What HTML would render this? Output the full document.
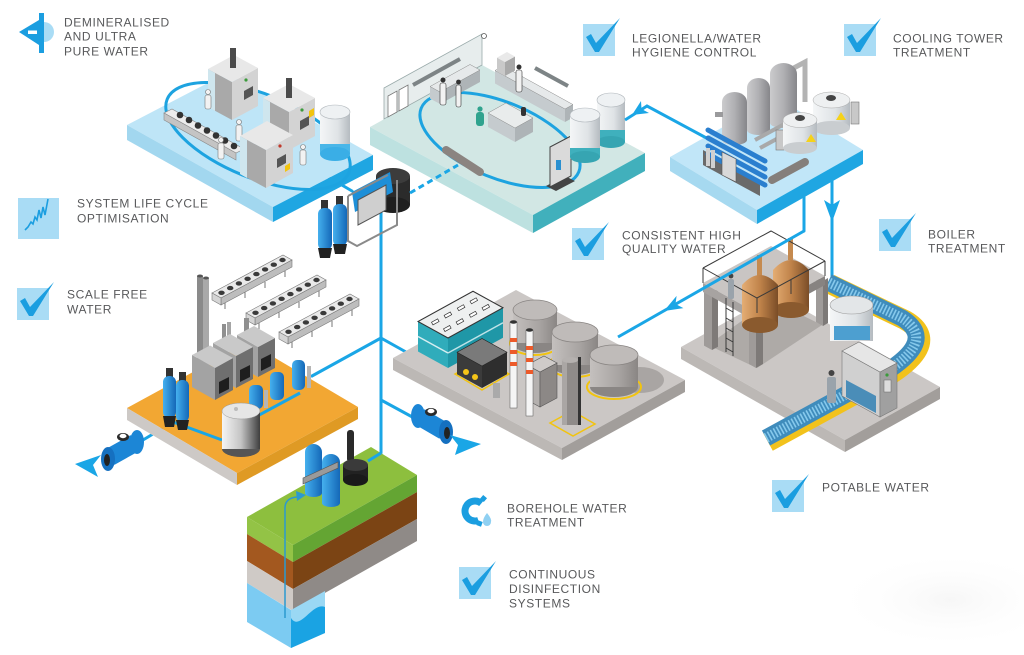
<!DOCTYPE html>
<html><head><meta charset="utf-8"><style>
html,body{margin:0;padding:0;background:#fff;width:1024px;height:655px;overflow:hidden}
svg{display:block}
</style></head><body>
<svg width="1024" height="655" viewBox="0 0 1024 655" xmlns="http://www.w3.org/2000/svg">
<defs>
<linearGradient id="gTank" x1="0" x2="1"><stop offset="0" stop-color="#cbcbcd"/><stop offset="0.5" stop-color="#b0b0b3"/><stop offset="1" stop-color="#86868a"/></linearGradient>
<linearGradient id="gWhite" x1="0" x2="1"><stop offset="0" stop-color="#f4f6f7"/><stop offset="0.6" stop-color="#dfe3e6"/><stop offset="1" stop-color="#b5bbc0"/></linearGradient>
<linearGradient id="gCopper" x1="0" x2="1"><stop offset="0" stop-color="#e4ad74"/><stop offset="0.5" stop-color="#c0834a"/><stop offset="1" stop-color="#7a4d27"/></linearGradient>
<linearGradient id="gSilo" x1="0" x2="1"><stop offset="0" stop-color="#c4c0be"/><stop offset="0.6" stop-color="#a8a4a2"/><stop offset="1" stop-color="#8a8684"/></linearGradient>
<linearGradient id="gWT" x1="0" x2="1"><stop offset="0" stop-color="#f5f5f5"/><stop offset="0.5" stop-color="#c4c4c4"/><stop offset="1" stop-color="#3e3e3e"/></linearGradient>
<linearGradient id="gBlue" x1="0" x2="1"><stop offset="0" stop-color="#45b0ee"/><stop offset="1" stop-color="#1468b8"/></linearGradient>
<radialGradient id="gSh" cx="0.5" cy="0.5" r="0.5"><stop offset="0" stop-color="#ececec" stop-opacity="0.45"/><stop offset="1" stop-color="#ffffff" stop-opacity="0"/></radialGradient>
<g id="ck"><rect x="0" y="0" width="32" height="32" fill="#a9dcf5"/><polygon points="3,13 8,10 13,19 37,-6 16,28 12,28" fill="#1b9ee0"/></g>
<g id="bar">
 <polygon points="212,293 283,255 292,260 221,298" fill="#e9e9e9" stroke="#777" stroke-width="0.6"/>
 <polygon points="221,298 292,260 292,267 221,305" fill="#bdbdbd" stroke="#777" stroke-width="0.6"/>
 <polygon points="212,293 221,298 221,305 212,300" fill="#d5d5d5" stroke="#777" stroke-width="0.6"/>
 <g fill="#3a3a3a"><ellipse cx="221.5" cy="292.8" rx="3.2" ry="2.2"/><ellipse cx="230.2" cy="288.1" rx="3.2" ry="2.2"/><ellipse cx="238.9" cy="283.4" rx="3.2" ry="2.2"/><ellipse cx="247.6" cy="278.8" rx="3.2" ry="2.2"/><ellipse cx="256.4" cy="274.1" rx="3.2" ry="2.2"/><ellipse cx="265.1" cy="269.4" rx="3.2" ry="2.2"/><ellipse cx="273.8" cy="264.7" rx="3.2" ry="2.2"/><ellipse cx="282.5" cy="260" rx="3.2" ry="2.2"/></g>
 <g stroke="#777" stroke-width="1"><line x1="225" y1="303" x2="225" y2="309"/><line x1="245" y1="292" x2="245" y2="298"/><line x1="265" y1="282" x2="265" y2="288"/><line x1="285" y1="271" x2="285" y2="277"/></g>
</g>
</defs>

<!-- faint shade bottom right -->
<ellipse cx="950" cy="600" rx="120" ry="50" fill="url(#gSh)"/>

<!-- back pipes -->
<g stroke="#1aa6e6" stroke-width="3" fill="none" stroke-linecap="round">
 <line x1="381" y1="200" x2="381" y2="453"/>
 <line x1="381" y1="338" x2="312" y2="376"/>
 <line x1="381" y1="338" x2="406" y2="352"/>
 <line x1="381" y1="400" x2="416" y2="419"/>
 <line x1="318" y1="171" x2="352" y2="191"/>
 <line x1="143" y1="440" x2="173" y2="422"/>
 <line x1="832" y1="180" x2="832" y2="284"/>
 <polyline points="804,196 804,231"/>
</g>

<!-- PLATFORM 1 -->
<polygon points="127,125 227,73 373,155 273,207" fill="#bee5f7"/>
<polygon points="127,125 273,207 273,222 127,140" fill="#a2d7ef"/>
<polygon points="273,207 373,155 373,170 273,222" fill="#1fa6e2"/>
<ellipse cx="258" cy="136" rx="98" ry="42" transform="rotate(22 258 136)" fill="none" stroke="#1da3e0" stroke-width="3"/>
<!-- box1 -->
<polygon points="208,107 232,120 232,82 208,69" fill="#a9a9a9"/>
<polygon points="208,107 215,111 215,73 208,69" fill="#cfe6ee"/>
<polygon points="232,120 258,106 258,68 232,82" fill="#d3d3d3"/>
<polygon points="232,82 258,68 234,55 208,69" fill="#e8e8e8"/>
<polygon points="244,100 253,95 253,86 244,91" fill="#555"/>
<rect x="230" y="48" width="6" height="20" fill="#4b4b4b"/>
<circle cx="246" cy="80" r="1.6" fill="#3b9b3b"/>
<!-- box2 -->
<polygon points="263,136 289,150 289,112 263,98" fill="#a9a9a9"/>
<polygon points="263,136 270,140 270,102 263,98" fill="#cfe6ee"/>
<polygon points="289,150 315,136 315,98 289,112" fill="#d3d3d3"/>
<polygon points="289,112 315,98 289,84 263,98" fill="#e8e8e8"/>
<polygon points="300,130 309,125 309,116 300,121" fill="#555"/>
<polygon points="309,118 314,115 314,108 309,111" fill="#f2c40f"/>
<rect x="286" y="78" width="6" height="20" fill="#4b4b4b"/>
<circle cx="302" cy="110" r="1.6" fill="#3b9b3b"/>
<!-- conveyor with fans -->
<polygon points="164,113 172,109 244,149 236,153" fill="#ececec" stroke="#888" stroke-width="0.6"/>
<polygon points="164,113 236,153 236,160 164,120" fill="#c4c4c4" stroke="#888" stroke-width="0.6"/>
<g fill="#333"><circle cx="180" cy="115" r="3.3"/><circle cx="189" cy="120" r="3.3"/><circle cx="198" cy="125.5" r="3.3"/><circle cx="207" cy="130.5" r="3.3"/><circle cx="216" cy="135.5" r="3.3"/><circle cx="225" cy="140.5" r="3.3"/><circle cx="234" cy="146" r="3.3"/></g>
<!-- figures P1 -->
<g fill="#f2f2f2" stroke="#777" stroke-width="0.6">
 <rect x="205" y="95" width="6" height="14" rx="2"/><circle cx="208" cy="92" r="2.5"/>
 <rect x="236" y="125" width="6" height="16" rx="2"/><circle cx="239" cy="122" r="2.5"/>
 <rect x="218" y="143" width="6" height="16" rx="2"/><circle cx="221" cy="140" r="2.5"/>
 <rect x="300" y="150" width="6" height="15" rx="2"/><circle cx="303" cy="147" r="2.5"/>
</g>
<!-- box3 -->
<polygon points="240,174 266,188 266,150 240,136" fill="#a9a9a9"/>
<polygon points="240,174 247,178 247,140 240,136" fill="#cfe6ee"/>
<polygon points="266,188 293,173 293,135 266,150" fill="#d3d3d3"/>
<polygon points="266,150 293,135 267,121 240,136" fill="#e8e8e8"/>
<polygon points="277,168 286,163 286,154 277,159" fill="#555"/>
<polygon points="285,172 290,169 290,163 285,166" fill="#f2c40f"/>
<circle cx="280" cy="146" r="1.6" fill="#c0392b"/>
<!-- P1 tank -->
<rect x="320" y="112" width="30" height="42" fill="url(#gWhite)"/>
<rect x="320" y="144" width="30" height="10" fill="#4ab6e8"/>
<ellipse cx="335" cy="154" rx="15" ry="7" fill="#3aaee6"/>
<ellipse cx="335" cy="112" rx="15" ry="7" fill="#eef1f3" stroke="#b0b6bb" stroke-width="0.6"/>

<!-- PLATFORM 2 -->
<polygon points="370,127 482,65 645,153 533,215" fill="#d2e7e4"/>
<polygon points="370,127 533,215 533,233 370,145" fill="#bde1e0"/>
<polygon points="533,215 645,153 645,171 533,233" fill="#41b0bc"/>
<!-- wall -->
<polygon points="384,88 482,34 482,65 384,119" fill="#e7eded" stroke="#9aa" stroke-width="0.8"/>
<polygon points="388,96 397,91 397,112 388,117" fill="#fff" stroke="#777" stroke-width="0.8"/>
<polygon points="399,90 408,85 408,106 399,111" fill="#fff" stroke="#777" stroke-width="0.8"/>
<line x1="413" y1="85" x2="460" y2="59" stroke="#7d8486" stroke-width="4"/>
<circle cx="484" cy="36" r="2.5" fill="#fff" stroke="#555" stroke-width="0.8"/>
<ellipse cx="500" cy="140" rx="85" ry="38" transform="rotate(22 500 140)" fill="none" stroke="#1da3e0" stroke-width="3"/>
<!-- benches -->
<polygon points="430,98.5 440,104 440,92 430,86.5" fill="#c5cbce"/>
<polygon points="440,104 480,82 480,70 440,92" fill="#aeb4b7"/>
<polygon points="440,92 480,70 470,64.5 430,86.5" fill="#e6e9ea" stroke="#888" stroke-width="0.5"/>
<polygon points="495,83.5 565,122 565,109 495,70.5" fill="#c5cbce"/>
<polygon points="565,122 573,117.6 573,104.6 565,109" fill="#aeb4b7"/>
<polygon points="565,109 573,104.6 503,66 495,70.5" fill="#e6e9ea" stroke="#888" stroke-width="0.5"/>
<polygon points="497,71.6 505,76 505,62 497,57.6" fill="#c9c9c9"/>
<polygon points="505,76 515,70.5 515,56.5 505,62" fill="#a9a9a9"/>
<polygon points="505,62 515,56.5 507,52 497,57.6" fill="#e9e9e9"/>
<line x1="535" y1="68" x2="568" y2="86" stroke="#7d8486" stroke-width="4"/>
<polygon points="488,127 515,142 515,128 488,113" fill="#c5cbce"/>
<polygon points="515,142 533,132 533,118 515,128" fill="#aeb4b7"/>
<polygon points="515,128 533,118 506,103 488,113" fill="#e9ecec" stroke="#888" stroke-width="0.5"/>
<!-- figures P2 -->
<g>
 <rect x="440" y="83" width="6" height="22" rx="2" fill="#f2f2f2" stroke="#333" stroke-width="0.6"/><circle cx="443" cy="80" r="2.5" fill="#333"/>
 <rect x="456" y="85" width="5" height="22" rx="2" fill="#f2f2f2" stroke="#333" stroke-width="0.6"/><circle cx="458.5" cy="82" r="2.4" fill="#333"/>
 <rect x="516" y="70" width="6" height="22" rx="2" fill="#f2f2f2" stroke="#333" stroke-width="0.6"/><circle cx="519" cy="67" r="2.5" fill="#333"/>
 <rect x="476" y="112" width="8" height="14" rx="3" fill="#2fa38e"/><circle cx="480" cy="109" r="2.6" fill="#2fa38e"/>
 <rect x="521" y="107" width="5" height="9" rx="2" fill="#333"/>
</g>
<!-- station -->
<polygon points="546,186 556,191 575,181 565,176" fill="#444"/>
<polygon points="550,147 571,136 571,176 550,187" fill="#dadada" stroke="#444" stroke-width="1"/>
<rect x="556" y="160" width="5" height="10" fill="#2a8fd0"/>
<!-- cartridge -->
<line x1="446" y1="150" x2="480" y2="172" stroke="#8b8480" stroke-width="8" stroke-linecap="round"/>
<!-- tanks P2 -->
<rect x="597" y="100" width="28" height="42" fill="url(#gWhite)"/>
<rect x="597" y="130" width="28" height="12" fill="#3fb0bd"/>
<ellipse cx="611" cy="142" rx="14" ry="6" fill="#36a5b2"/>
<ellipse cx="611" cy="100" rx="14" ry="7" fill="#eef1f3" stroke="#b0b6bb" stroke-width="0.6"/>
<rect x="570" y="115" width="30" height="42" fill="url(#gWhite)"/>
<rect x="570" y="148" width="30" height="9" fill="#3fb0bd"/>
<ellipse cx="585" cy="157" rx="15" ry="6" fill="#36a5b2"/>
<ellipse cx="585" cy="115" rx="15" ry="7" fill="#eef1f3" stroke="#b0b6bb" stroke-width="0.6"/>

<!-- PLATFORM 3 -->
<polygon points="670,157 776,97 863,150 757,210" fill="#c1e6f8"/>
<polygon points="670,157 757,210 757,224 670,171" fill="#a6d9f0"/>
<polygon points="757,210 863,150 863,164 757,224" fill="#1fa6e2"/>
<!-- P3 -> P2 line -->
<polyline points="625,120 647,106 712,141" fill="none" stroke="#1aa6e6" stroke-width="3"/>
<polygon points="632,115 641,101 641.5,109 649,113" fill="#1aa6e6"/>
<!-- P3 tanks -->
<path d="M790,70 L805,62 L805,102" fill="none" stroke="#b3b3b3" stroke-width="5"/>
<path d="M770,123 L770,74 A13.5,11 0 0 1 797,74 L797,123 A13.5,5 0 0 1 770,123 Z" fill="url(#gTank)"/>
<path d="M747,130 L747,88 A11.5,10 0 0 1 770,88 L770,130 A11.5,5 0 0 1 747,130 Z" fill="url(#gTank)"/>
<path d="M722,140 L722,102 A12.5,10 0 0 1 747,102 L747,140 A12.5,5 0 0 1 722,140 Z" fill="url(#gTank)"/>
<rect x="715" y="112" width="8" height="5" fill="#9a9a9c"/>
<rect x="851" y="102" width="8" height="22" fill="#c8c8c8" stroke="#777" stroke-width="0.6"/>
<rect x="813" y="100" width="37" height="28" fill="url(#gWhite)"/>
<ellipse cx="831.5" cy="128" rx="18.5" ry="7" fill="#c9cdd0"/>
<ellipse cx="831.5" cy="100" rx="18.5" ry="8" fill="#eef0f1" stroke="#aaa" stroke-width="0.5"/>
<ellipse cx="831" cy="98" rx="5" ry="3" fill="#444"/>
<polygon points="836,120 841,112 846,120" fill="#f5d21a"/>
<line x1="755" y1="140" x2="790" y2="121" stroke="#a9a9a9" stroke-width="4"/>
<line x1="760" y1="148" x2="795" y2="129" stroke="#a9a9a9" stroke-width="4"/>
<rect x="776" y="130" width="8" height="20" fill="#c8c8c8" stroke="#777" stroke-width="0.6"/>
<rect x="783" y="120" width="34" height="28" fill="url(#gWhite)"/>
<ellipse cx="800" cy="148" rx="17" ry="6" fill="#c9cdd0"/>
<ellipse cx="800" cy="120" rx="17" ry="7.5" fill="#eef0f1" stroke="#aaa" stroke-width="0.5"/>
<ellipse cx="800" cy="118" rx="5" ry="3" fill="#444"/>
<polygon points="806,142 811,134 816,142" fill="#f5d21a"/>
<!-- RO rack -->
<polygon points="703,150 760,181 760,196 703,165" fill="#6a6a6a"/>
<g stroke="#2a7fcf" stroke-width="5" stroke-linecap="round"><line x1="708" y1="130" x2="765" y2="161"/><line x1="708" y1="138" x2="765" y2="169"/><line x1="708" y1="146" x2="765" y2="177"/><line x1="708" y1="154" x2="765" y2="185"/></g>
<polygon points="722,152 736,159 736,182 722,175" fill="#d8d8d8" stroke="#555" stroke-width="0.6"/>
<rect x="706" y="148" width="4" height="18" fill="#d0d0d0"/><rect x="711" y="150" width="4" height="18" fill="#d0d0d0"/>
<line x1="772" y1="180" x2="805" y2="162" stroke="#857f7b" stroke-width="8" stroke-linecap="round"/>

<!-- PLATFORM 4 (orange) -->
<polygon points="127,408 248,342 358,407 237,473" fill="#f2a733"/>
<polygon points="127,408 237,473 237,485 127,420" fill="#cdc9c6"/>
<polygon points="237,473 358,407 358,419 237,485" fill="#df9a24"/>
<line x1="173" y1="422" x2="222" y2="440" stroke="#1aa6e6" stroke-width="3"/>
<line x1="250" y1="420" x2="300" y2="393" stroke="#1aa6e6" stroke-width="3"/>
<use href="#bar"/>
<use href="#bar" transform="translate(34,20)"/>
<use href="#bar" transform="translate(67,39)"/>
<rect x="197" y="276" width="6" height="90" fill="#8a8a8a"/>
<rect x="203" y="278" width="6" height="88" fill="#a9a9a9"/>
<ellipse cx="200" cy="276" rx="3" ry="1.5" fill="#555"/><ellipse cx="206" cy="278" rx="3" ry="1.5" fill="#555"/>
<rect x="244" y="318" width="5" height="16" fill="#8f8f8f"/>
<polygon points="237,365 258,377 258,347 237,335" fill="#a3a3a3"/>
<polygon points="258,377 275,368 275,338 258,347" fill="#6f6f6f"/>
<polygon points="258,347 275,338 254,326 237,335" fill="#c9c9c9"/>
<rect x="222" y="324" width="4" height="22" fill="#8f8f8f"/><rect x="227" y="322" width="4" height="22" fill="#a5a5a5"/>
<polygon points="213,375 236,388 236,356 213,343" fill="#a3a3a3"/>
<polygon points="236,388 253,379 253,347 236,356" fill="#6f6f6f"/>
<polygon points="236,356 253,347 230,334 213,343" fill="#c9c9c9"/>
<polygon points="192,387 215,400 215,368 192,355" fill="#a3a3a3"/>
<polygon points="215,400 233,390 233,358 215,368" fill="#6f6f6f"/>
<polygon points="215,368 233,358 210,345.5 192,355" fill="#c9c9c9"/>
<polygon points="219,394 229,389 229,377 219,382" fill="#1e1e1e"/>
<polygon points="240,382 250,377 250,365 240,370" fill="#1e1e1e"/>
<polygon points="261,371 271,366 271,354 261,359" fill="#1e1e1e"/>
<!-- softeners -->
<rect x="292" y="360" width="13" height="30" rx="5" fill="url(#gBlue)"/>
<rect x="270" y="372" width="14" height="28" rx="5" fill="url(#gBlue)"/>
<rect x="249" y="385" width="14" height="24" rx="5" fill="url(#gBlue)"/>
<rect x="307" y="366" width="4" height="22" fill="#b5b5b5"/>
<rect x="264" y="390" width="4" height="18" fill="#b5b5b5"/>
<!-- filter pair -->
<rect x="166" y="368" width="7" height="10" fill="#333"/>
<rect x="163" y="376" width="13" height="42" rx="6" fill="url(#gBlue)"/>
<polygon points="163,416 176,416 174,427 165,427" fill="#222"/>
<rect x="179" y="372" width="7" height="10" fill="#333"/>
<rect x="176" y="380" width="13" height="42" rx="6" fill="url(#gBlue)"/>
<polygon points="176,420 189,420 187,430 178,430" fill="#222"/>
<!-- white tank -->
<rect x="222" y="411" width="38" height="38" fill="url(#gWT)"/>
<ellipse cx="241" cy="449" rx="19" ry="8" fill="#555"/>
<rect x="222" y="430" width="38" height="19" fill="url(#gWT)"/>
<ellipse cx="241" cy="411" rx="19" ry="8" fill="#e6e6e6" stroke="#999" stroke-width="0.5"/>
<circle cx="236" cy="409" r="2" fill="#bbb"/>

<!-- PLATFORM 5 -->
<polygon points="393,358 516,290 685,380 562,448" fill="#cbc7c5"/>
<polygon points="393,358 562,448 562,460 393,370" fill="#bcb8b5"/>
<polygon points="562,448 685,380 685,392 562,460" fill="#a29e9b"/>
<!-- building -->
<polygon points="418,351.5 448,368 448,338 418,321.5" fill="#30acbb"/>
<polygon points="448,368 503,337.75 503,307.75 448,338" fill="#1f97a7"/>
<polygon points="448,338 503,307.75 473,291.25 418,321.5" fill="#eef0f0" stroke="#333" stroke-width="1"/>
<line x1="418" y1="336.5" x2="448" y2="353" stroke="#d6eef1" stroke-width="1.5"/>
<line x1="448" y1="353" x2="503" y2="322.75" stroke="#bfe3e8" stroke-width="1.5"/>
<g fill="#fff" stroke="#333" stroke-width="0.7">
<rect x="-3.5" y="-1.5" width="7" height="3" transform="translate(435.3,321.9) rotate(-29)"/>
<rect x="-3.5" y="-1.5" width="7" height="3" transform="translate(447.9,315) rotate(-29)"/>
<rect x="-3.5" y="-1.5" width="7" height="3" transform="translate(461.1,307.7) rotate(-29)"/>
<rect x="-3.5" y="-1.5" width="7" height="3" transform="translate(473.8,300.8) rotate(-29)"/>
<rect x="-3.5" y="-1.5" width="7" height="3" transform="translate(447.3,328.5) rotate(-29)"/>
<rect x="-3.5" y="-1.5" width="7" height="3" transform="translate(459.9,321.6) rotate(-29)"/>
<rect x="-3.5" y="-1.5" width="7" height="3" transform="translate(473.1,314.3) rotate(-29)"/>
<rect x="-3.5" y="-1.5" width="7" height="3" transform="translate(485.8,307.4) rotate(-29)"/>
</g>
<!-- silos -->
<ellipse cx="640" cy="380" rx="24" ry="13" fill="#a9a5a3"/>
<ellipse cx="535" cy="343" rx="25" ry="12" fill="none" stroke="#f2c40f" stroke-width="2"/>
<rect x="513" y="310" width="44" height="33" fill="url(#gSilo)"/>
<ellipse cx="535" cy="343" rx="22" ry="10" fill="#8a8684"/>
<rect x="513" y="330" width="44" height="13" fill="url(#gSilo)"/>
<ellipse cx="535" cy="310" rx="22" ry="10" fill="#bfbbb9" stroke="#8a8684" stroke-width="0.8"/>
<ellipse cx="575" cy="365" rx="26" ry="12" fill="none" stroke="#f2c40f" stroke-width="2"/>
<rect x="552" y="332" width="46" height="33" fill="url(#gSilo)"/>
<ellipse cx="575" cy="365" rx="23" ry="10" fill="#8a8684"/>
<rect x="552" y="350" width="46" height="15" fill="url(#gSilo)"/>
<ellipse cx="575" cy="332" rx="23" ry="10" fill="#bfbbb9" stroke="#8a8684" stroke-width="0.8"/>
<ellipse cx="614" cy="387" rx="27" ry="12" fill="none" stroke="#f2c40f" stroke-width="2"/>
<rect x="590" y="355" width="48" height="32" fill="url(#gSilo)"/>
<ellipse cx="614" cy="387" rx="24" ry="10" fill="#8a8684"/>
<rect x="590" y="372" width="48" height="15" fill="url(#gSilo)"/>
<ellipse cx="614" cy="355" rx="24" ry="10" fill="#bfbbb9" stroke="#8a8684" stroke-width="0.8"/>
<!-- generator -->
<polygon points="455,374 482,390 509,374 482,359" fill="none" stroke="#f2c40f" stroke-width="1.5"/>
<polygon points="457,374.25 482,388 482,366 457,352.25" fill="#3b3b3b"/>
<polygon points="482,388 507,374.25 507,352.25 482,366" fill="#2e2e2e"/>
<polygon points="482,366 507,352.25 482,338.5 457,352.25" fill="#7a7a7a" stroke="#222" stroke-width="0.6"/>
<circle cx="466" cy="372" r="3" fill="#f5c518"/><circle cx="475" cy="377" r="3" fill="#f5c518"/>
<rect x="493" y="383" width="7" height="15" fill="#aaa"/>
<!-- reactor box -->
<polygon points="527,400 540,407 540,372 527,365" fill="#b4b0ae" stroke="#555" stroke-width="0.6"/>
<polygon points="540,407 557,398 557,363 540,372" fill="#8c8886" stroke="#555" stroke-width="0.6"/>
<polygon points="540,372 557,363 544,356 527,365" fill="#cfcbc9" stroke="#555" stroke-width="0.6"/>
<!-- chimneys -->
<rect x="510" y="322" width="7" height="86" fill="#f5f5f5" stroke="#555" stroke-width="0.5"/>
<rect x="510" y="338" width="7" height="4" fill="#ec5a2a"/><rect x="510" y="350" width="7" height="4" fill="#ec5a2a"/><rect x="510" y="362" width="7" height="4" fill="#ec5a2a"/>
<ellipse cx="513.5" cy="322" rx="3.5" ry="1.8" fill="#333"/>
<rect x="526" y="330" width="7" height="86" fill="#f5f5f5" stroke="#555" stroke-width="0.5"/>
<rect x="526" y="346" width="7" height="4" fill="#ec5a2a"/><rect x="526" y="358" width="7" height="4" fill="#ec5a2a"/><rect x="526" y="370" width="7" height="4" fill="#ec5a2a"/>
<ellipse cx="529.5" cy="330" rx="3.5" ry="1.8" fill="#333"/>
<!-- tower -->
<polygon points="550,423 572,411 595,424 573,436" fill="none" stroke="#f2c40f" stroke-width="1.5"/>
<rect x="562" y="360" width="16" height="65" fill="#8f8b89"/>
<rect x="562" y="360" width="5" height="65" fill="#aaa6a4"/>
<rect x="578" y="357" width="3" height="68" fill="#333"/>
<ellipse cx="570" cy="360" rx="8" ry="3" fill="#b5b1af"/>

<!-- PLATFORM 6 -->
<polygon points="681,347 776,294 940,387 845,440" fill="#cbc7c5"/>
<polygon points="681,347 845,440 845,452 681,359" fill="#bcb8b5"/>
<polygon points="845,440 940,387 940,399 845,452" fill="#a29e9b"/>
<polygon points="708,345 757,368 822,325 771,300" fill="#aeaaa7"/>
<!-- conveyor -->
<path d="M768,442 L878,382 C918,360 935,337 905,320 L830,284" fill="none" stroke="#f2c21c" stroke-width="20"/>
<path d="M766,438 L876,378 C914,356 930,336 902,318 L828,282" fill="none" stroke="#3f8cbc" stroke-width="17"/>
<path d="M766,438 L876,378 C914,356 930,336 902,318 L828,282" fill="none" stroke="#86c9ec" stroke-width="10" stroke-dasharray="1.6 1.8"/>
<!-- structure -->
<polygon points="704,345.6 712,350 712,292 704,287.6" fill="#9f9b99"/>
<polygon points="712,350 718,346.7 718,288.7 712,292" fill="#7e7a78"/>
<polygon points="749,364 756,368 756,318 749,314" fill="#9f9b99"/>
<polygon points="756,368 763,364 763,314 756,318" fill="#7e7a78"/>
<polygon points="816,322 823,326 823,281 816,277" fill="#9f9b99"/>
<polygon points="823,326 828,323 828,278 823,281" fill="#7e7a78"/>
<polygon points="703,283 757,313 825,276 771,246" fill="#c9c5c3"/>
<polygon points="703,283 757,313 757,322 703,292" fill="#a7a3a1"/>
<polygon points="757,313 825,276 825,285 757,322" fill="#878381"/>
<!-- copper tanks -->
<rect x="788" y="238" width="5" height="22" fill="#c58a4f"/>
<rect x="773" y="270" width="36" height="40" fill="url(#gCopper)"/>
<ellipse cx="791" cy="310" rx="18" ry="8" fill="#8a5a2e"/>
<path d="M773,270 Q791,250 809,270 Z" fill="url(#gCopper)"/>
<rect x="757" y="255" width="5" height="22" fill="#c58a4f"/>
<rect x="742" y="285" width="36" height="40" fill="url(#gCopper)"/>
<ellipse cx="760" cy="325" rx="18" ry="8" fill="#8a5a2e"/>
<path d="M742,285 Q760,265 778,285 Z" fill="url(#gCopper)"/>
<!-- railings -->
<g stroke="#3a3a3a" stroke-width="1" fill="none">
<polyline points="703,268 757,298 825,261"/>
<polyline points="703,268 771,231 825,261"/>
<line x1="703" y1="268" x2="703" y2="283"/><line x1="757" y1="298" x2="757" y2="313"/><line x1="825" y1="261" x2="825" y2="276"/>
<line x1="730" y1="283" x2="730" y2="298"/><line x1="791" y1="280" x2="791" y2="294"/>
<line x1="726" y1="298" x2="726" y2="352"/><line x1="733" y1="302" x2="733" y2="356"/>
<line x1="726" y1="308" x2="733" y2="312"/><line x1="726" y1="318" x2="733" y2="322"/><line x1="726" y1="328" x2="733" y2="332"/><line x1="726" y1="338" x2="733" y2="342"/><line x1="726" y1="348" x2="733" y2="352"/>
</g>
<rect x="728" y="279" width="6" height="20" rx="2" fill="#9aa3ab"/><circle cx="731" cy="276" r="2.4" fill="#444"/>
<!-- cap tank -->
<rect x="830" y="305" width="43" height="36" fill="url(#gWhite)"/>
<rect x="834" y="326" width="36" height="14" fill="#4d9fd0"/>
<ellipse cx="851.5" cy="305" rx="21.5" ry="9" fill="#e3e6e8" stroke="#999" stroke-width="0.6"/>
<!-- gate -->
<polygon points="842,396 880,417 880,372 842,351" fill="#d0d0d0" stroke="#777" stroke-width="0.6"/>
<polygon points="846,380 876,396 876,413 846,397" fill="#4a8db8"/>
<polygon points="880,417 897,408 897,363 880,372" fill="#a0a0a0" stroke="#777" stroke-width="0.6"/>
<polygon points="880,372 897,363 859,342 842,351" fill="#e6e6e6" stroke="#777" stroke-width="0.6"/>
<rect x="884" y="380" width="7" height="12" fill="#ddd" stroke="#666" stroke-width="0.5"/>
<circle cx="887" cy="375" r="1.6" fill="#3b9b3b"/>
<rect x="827" y="377" width="9" height="26" rx="2" fill="#9aa3ab"/><circle cx="831.5" cy="373" r="3" fill="#444"/>

<!-- diagonal line from P3 -->
<polyline points="804,231 618,337" fill="none" stroke="#1aa6e6" stroke-width="3"/>
<polygon points="664,311 676.6,295.9 675.5,304 683.4,308.1" fill="#1aa6e6"/>
<polygon points="824,200 832,205 840,200 832,222" fill="#1aa6e6"/>

<!-- GROUND BLOCK -->
<polygon points="247,517 371,447 417,475 293,545" fill="#8dbf3e"/>
<polygon points="247,517 293,545 293,562 247,534" fill="#93c346"/>
<polygon points="247,534 293,562 293,589 247,561" fill="#a3581f"/>
<polygon points="247,561 293,589 293,611 247,583" fill="#cfcac6"/>
<polygon points="293,545 417,475 417,492 293,562" fill="#64a533"/>
<polygon points="293,562 417,492 417,519 293,589" fill="#7b4414"/>
<polygon points="293,589 417,519 417,541 293,611" fill="#8f8a87"/>
<polygon points="247,583 291,610 291,648 247,622" fill="#7ccbf2"/>
<polygon points="291,610 325,591 325,633 291,648" fill="#9ad8f4"/>
<path d="M291,618 C300,632 312,602 325,607 L325,633 L291,648 Z" fill="#1aa3e3"/>
<path d="M285,618 L285,508 Q285,498 297,497" fill="none" stroke="#2b9ad0" stroke-width="1.5"/>
<polygon points="306,495 296,491 297,501" fill="#2b9ad0"/>
<!-- pumps -->
<path d="M305,493 L305,452 A8.5,8 0 0 1 322,452 L322,493 A8.5,4 0 0 1 305,493 Z" fill="url(#gBlue)"/>
<path d="M322,503 L322,462 A9,8 0 0 1 340,462 L340,503 A9,4 0 0 1 322,503 Z" fill="url(#gBlue)"/>
<polygon points="303,478 338,462 338,468 303,484" fill="#9a9a9a" stroke="#555" stroke-width="0.6"/>
<rect x="347" y="430" width="7" height="32" rx="3" fill="#2a2a2a"/>
<rect x="343" y="465" width="25" height="15" fill="#222"/>
<ellipse cx="355.5" cy="480" rx="12.5" ry="6" fill="#1a1a1a"/>
<ellipse cx="355.5" cy="465" rx="12.5" ry="6" fill="#3a3a3a"/>
<polyline points="381,453 368,461" fill="none" stroke="#1aa6e6" stroke-width="3"/>

<!-- filter unit -->
<rect x="376" y="176" width="34" height="29" fill="#2b2b2b"/>
<ellipse cx="393" cy="205" rx="17" ry="8" fill="#1f1f1f"/>
<ellipse cx="393" cy="176" rx="17" ry="8" fill="#3c3c3c"/>
<polygon points="352,192 390,172 393,192 355,212" fill="#1d8fd8"/>
<polygon points="358,200 386,185 386,210 358,225" fill="#cfcfcf" stroke="#555" stroke-width="1"/>
<polyline points="348,196 348,241 357,246 397,225 397,180" fill="none" stroke="#8a8a8a" stroke-width="2"/>
<line x1="348" y1="196" x2="388" y2="175" stroke="#8a8a8a" stroke-width="2"/>
<rect x="321" y="200" width="7" height="10" fill="#333"/>
<rect x="318" y="208" width="14" height="42" rx="6" fill="url(#gBlue)"/>
<polygon points="318,248 332,248 330,258 320,258" fill="#222"/>
<rect x="336" y="196" width="7" height="10" fill="#333"/>
<rect x="333" y="204" width="14" height="42" rx="6" fill="url(#gBlue)"/>
<polygon points="333,244 347,244 345,254 335,254" fill="#222"/>
<line x1="410" y1="193" x2="458" y2="165" stroke="#1aa6e6" stroke-width="3" stroke-dasharray="6 4"/>

<!-- meters -->
<line x1="110" y1="457" x2="135" y2="443" stroke="#1c86d6" stroke-width="18"/>
<ellipse cx="137" cy="442" rx="7" ry="12" fill="#1c86d6"/>
<ellipse cx="108" cy="459" rx="7" ry="12" fill="#1570c0"/>
<ellipse cx="107" cy="460" rx="3" ry="6" fill="#222"/>
<ellipse cx="123" cy="437" rx="6" ry="4" fill="#2a2a2a"/>
<ellipse cx="123" cy="436" rx="3.5" ry="2.2" fill="#fff"/>
<polygon points="75,464 101,455 93,465 98,477" fill="#1aa6e6"/>
<line x1="420" y1="417" x2="444" y2="431" stroke="#1c86d6" stroke-width="18"/>
<ellipse cx="418" cy="416" rx="7" ry="12" fill="#1c86d6"/>
<ellipse cx="446" cy="432" rx="7" ry="12" fill="#1570c0"/>
<ellipse cx="447" cy="433" rx="3" ry="6" fill="#222"/>
<ellipse cx="431" cy="412" rx="6" ry="4" fill="#2a2a2a"/>
<ellipse cx="431" cy="411" rx="3.5" ry="2.2" fill="#fff"/>
<polygon points="481,444 450,435 458,445 455,455" fill="#1aa6e6"/>

<!-- ICONS -->
<rect x="39" y="13" width="5" height="40" fill="#1b9ee0"/>
<polygon points="19,32 39,20 39,45" fill="#1b9ee0"/>
<rect x="28" y="30.5" width="9" height="3.5" fill="#fff"/>
<path d="M44,22 A10,10 0 0 1 44,42 Z" fill="#a9dcf5"/>
<rect x="18" y="198" width="41" height="41" fill="#a9dcf5"/>
<polyline points="25,230 28,227 31,222 33,224 35,217 37,220 39,210 41,218 43,207 45,215 48,199" fill="none" stroke="#1b9ee0" stroke-width="1.6"/>
<use href="#ck" x="17" y="288"/>
<use href="#ck" x="583" y="24"/>
<use href="#ck" x="844" y="24"/>
<use href="#ck" x="572" y="228"/>
<use href="#ck" x="879" y="219"/>
<use href="#ck" x="772" y="480"/>
<use href="#ck" x="459" y="567"/>
<path d="M481.4,503.3 A10,10 0 1 0 478.4,520.4" fill="none" stroke="#1b9ee0" stroke-width="7"/>
<rect x="481" y="496" width="5" height="5" fill="#1b9ee0" transform="rotate(40 483.5 498.5)"/>
<rect x="477" y="521" width="5" height="5" fill="#1b9ee0" transform="rotate(20 479.5 523.5)"/>
<path d="M487,513 Q492,519 491,522 A4,4 0 0 1 483,522 Q483,518 487,513 Z" fill="#8fd0f2"/>

<!-- TEXT -->
<g font-family="'Liberation Sans', Arial, sans-serif" font-size="12" fill="#58595b" letter-spacing="0.6">
<text x="64" y="26.5">DEMINERALISED</text>
<text x="64" y="40.5">AND ULTRA</text>
<text x="64" y="55.5">PURE WATER</text>
<text x="77" y="207.5">SYSTEM LIFE CYCLE</text>
<text x="77" y="222.5">OPTIMISATION</text>
<text x="67" y="298.5">SCALE FREE</text>
<text x="67" y="313.5">WATER</text>
<text x="632" y="42.5">LEGIONELLA/WATER</text>
<text x="632" y="56.5">HYGIENE CONTROL</text>
<text x="893" y="42.5">COOLING TOWER</text>
<text x="893" y="56.5">TREATMENT</text>
<text x="622" y="239.5">CONSISTENT HIGH</text>
<text x="622" y="253">QUALITY WATER</text>
<text x="928" y="238.5">BOILER</text>
<text x="928" y="252.5">TREATMENT</text>
<text x="822" y="491.5">POTABLE WATER</text>
<text x="507" y="512.5">BOREHOLE WATER</text>
<text x="507" y="526.5">TREATMENT</text>
<text x="509" y="578.5">CONTINUOUS</text>
<text x="509" y="593">DISINFECTION</text>
<text x="509" y="607.5">SYSTEMS</text>
</g>
</svg>
</body></html>
